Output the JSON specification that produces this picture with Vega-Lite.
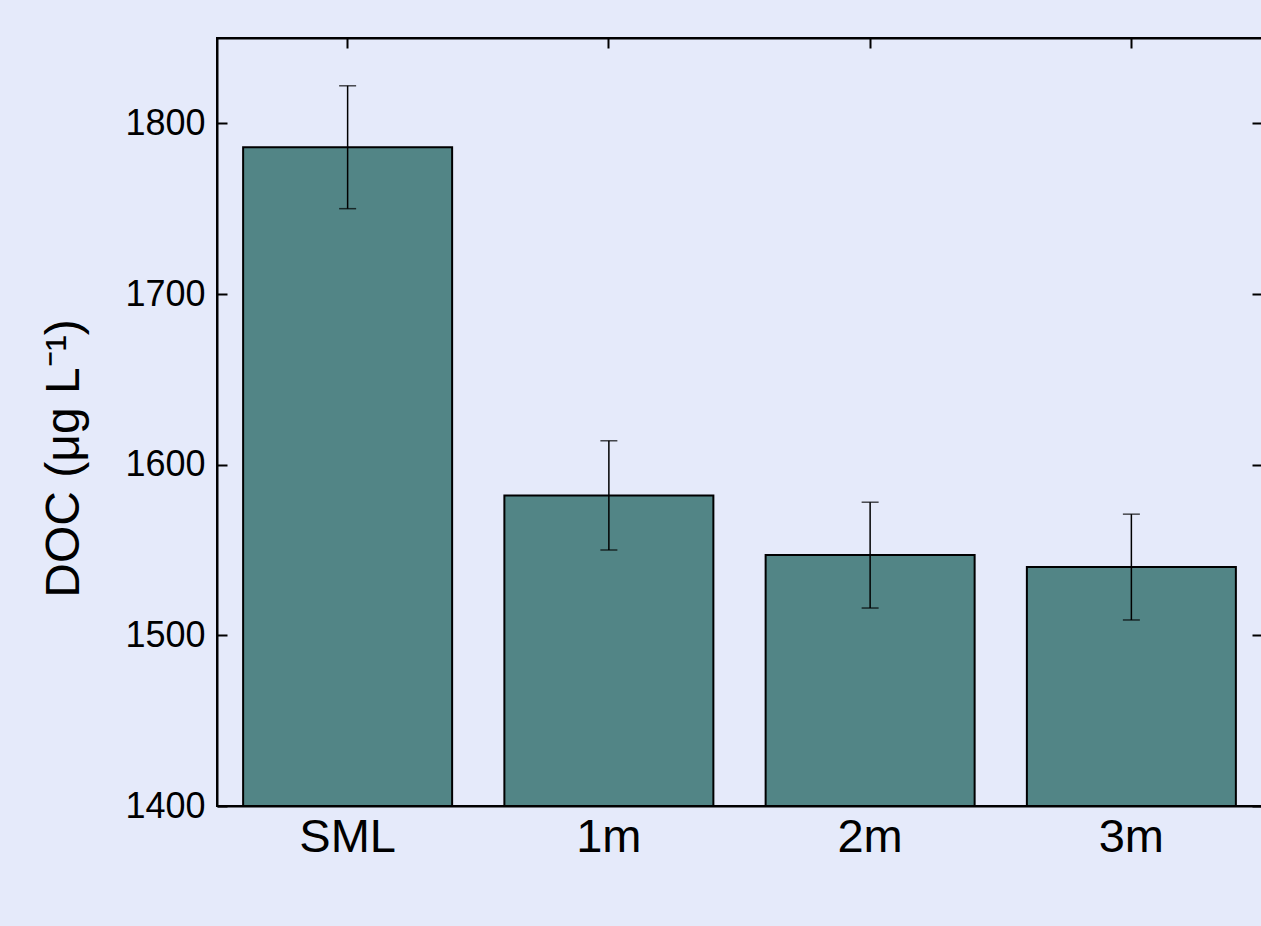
{
  "$schema": "https://vega.github.io/schema/vega-lite/v6.json",
  "autosize": "none",
  "width": 1045,
  "height": 768,
  "padding": {"left": 217, "top": 38, "right": 0, "bottom": 120},
  "background": "#E5EAFA",
  "config": {
    "view": {"stroke": "#000000", "strokeWidth": 2},
    "font": "Liberation Sans",
    "axis": {
      "domainColor": "#000000",
      "domainWidth": 2,
      "tickColor": "#000000",
      "tickWidth": 2,
      "tickSize": -10,
      "grid": false,
      "labelColor": "#000000",
      "titleColor": "#000000",
      "labelFont": "Liberation Sans",
      "titleFont": "Liberation Sans",
      "titleFontWeight": "normal"
    }
  },
  "data": {
    "values": [
      {"site": "SML", "doc": 1786, "lo": 1750, "hi": 1822},
      {"site": "1m", "doc": 1582, "lo": 1550, "hi": 1614},
      {"site": "2m", "doc": 1547, "lo": 1516, "hi": 1578},
      {"site": "3m", "doc": 1540, "lo": 1509, "hi": 1571}
    ]
  },
  "resolve": {"axis": {"x": "independent", "y": "independent"}},
  "layer": [
    {
      "mark": {"type": "bar", "fill": "#528586", "stroke": "#000000", "strokeWidth": 2},
      "encoding": {
        "x": {
          "field": "site", "type": "nominal",
          "scale": {"domain": ["SML", "1m", "2m", "3m"], "paddingInner": 0.2, "paddingOuter": 0.1},
          "axis": {"orient": "bottom", "title": null, "labelAngle": 0, "labelFontSize": 47, "labelPadding": 18}
        },
        "y": {
          "field": "doc", "type": "quantitative",
          "scale": {"domain": [1400, 1850], "nice": false, "zero": false},
          "axis": {
            "orient": "left",
            "values": [1400, 1500, 1600, 1700, 1800],
            "format": "d",
            "labelFontSize": 36,
            "labelPadding": 22,
            "title": "DOC (μg L⁻¹)",
            "titleFontSize": 48,
            "titleAngle": 270,
            "titleBaseline": "alphabetic",
            "titleX": -139,
            "titleY": 420
          }
        },
        "y2": {"datum": 1400}
      }
    },
    {
      "mark": {"type": "rule", "color": "#000000", "strokeWidth": 1.5},
      "encoding": {
        "x": {"field": "site", "type": "nominal", "axis": null},
        "y": {"field": "lo", "type": "quantitative", "axis": null},
        "y2": {"field": "hi"}
      }
    },
    {
      "mark": {"type": "tick", "color": "#000000", "thickness": 1.5, "size": 17, "orient": "horizontal"},
      "encoding": {
        "x": {"field": "site", "type": "nominal", "axis": null},
        "y": {"field": "lo", "type": "quantitative", "axis": null}
      }
    },
    {
      "mark": {"type": "tick", "color": "#000000", "thickness": 1.5, "size": 17, "orient": "horizontal"},
      "encoding": {
        "x": {"field": "site", "type": "nominal", "axis": null},
        "y": {"field": "hi", "type": "quantitative", "axis": null}
      }
    },
    {
      "mark": {"type": "point", "opacity": 0},
      "encoding": {
        "x": {"field": "site", "type": "nominal", "axis": {"orient": "top", "title": null, "labels": false}},
        "y": {"field": "doc", "type": "quantitative", "axis": {"orient": "right", "title": null, "labels": false, "values": [1400, 1500, 1600, 1700, 1800]}}
      }
    }
  ]
}
